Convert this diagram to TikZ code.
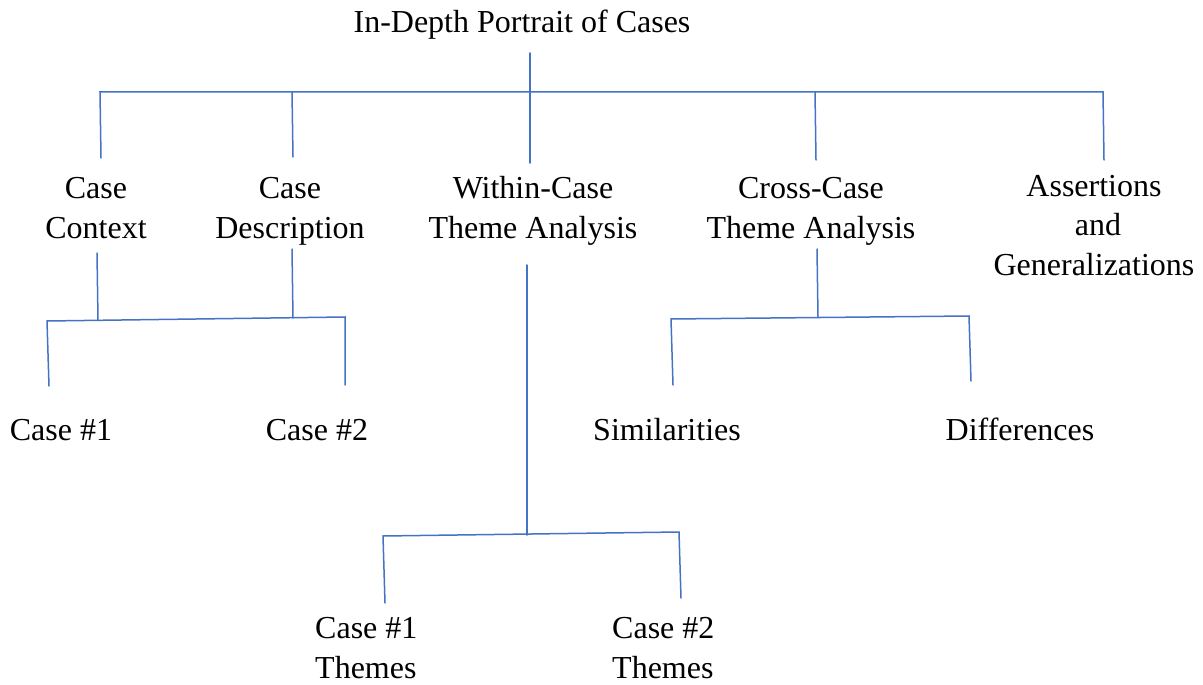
\documentclass[tikz,border=0pt]{standalone}
\usepackage{fontspec}
\setmainfont{Liberation Serif}
\definecolor{lineblue}{RGB}{68,114,196}
\begin{document}
\begin{tikzpicture}[x=1pt,y=-1pt,
  lbl/.style={align=center, font=\fontsize{32}{39.5}\selectfont, inner sep=0pt, anchor=base},
  lbll/.style={lbl, align=left, anchor=base west},
  conn/.style={draw=lineblue, line width=1.5pt, line cap=round, line join=miter}]
\useasboundingbox (0,0) rectangle (1203,685);
% labels (anchor base = baseline of the last line)
\node[lbl] (title) at (522,33) {In-Depth Portrait of Cases};
\node[lbl] (ctx) at (96,238) {Case\\Context};
\node[lbl] (desc) at (290,238) {Case\\Description};
\node[lbl] (within) at (533,238) {Within-Case\\Theme Analysis};
\node[lbl] (cross) at (811,238) {Cross-Case\\Theme Analysis};
\node[lbl] (assert) at (1094,275) {Assertions\\ \ and\\Generalizations};
\node[lbl] (c1) at (61,440) {Case \#1};
\node[lbl] (c2) at (317,440) {Case \#2};
\node[lbl] (sim) at (667,440) {Similarities};
\node[lbl] (diff) at (1020,440) {Differences};
\node[lbll] (t1) at (315,678) {Case \#1\\Themes};
\node[lbll] (t2) at (612,678) {Case \#2\\Themes};
% junction coordinates
\coordinate (titleS) at (530,53);
\coordinate (barL) at (100,92);
\coordinate (bar2) at (292,92);
\coordinate (barM) at (530,92);
\coordinate (bar4) at (815,92);
\coordinate (barR) at (1103,92);
\coordinate (ctxN) at (101,158);
\coordinate (descN) at (293,157);
\coordinate (withinN) at (530,163);
\coordinate (crossN) at (816,160);
\coordinate (assertN) at (1104,160);
% case context/description group
\coordinate (ctxS) at (97,253);
\coordinate (ctxJ) at (98,320);
\coordinate (descS) at (292,249);
\coordinate (descJ) at (293,318);
\coordinate (gL) at (47,321);
\coordinate (gR) at (345,317);
\coordinate (c1N) at (49,386);
\coordinate (c2N) at (345,385);
% cross-case group
\coordinate (crossS) at (817,249);
\coordinate (crossJ) at (818,317);
\coordinate (xL) at (671,319);
\coordinate (xR) at (969,316);
\coordinate (simN) at (673,385);
\coordinate (diffN) at (971,381);
% within-case group
\coordinate (withinS) at (527,265);
\coordinate (wJ) at (527,535);
\coordinate (wL) at (383,536);
\coordinate (wR) at (679,532);
\coordinate (t1N) at (385,603);
\coordinate (t2N) at (681,598);
% connectors
\draw[conn] (titleS) -- (withinN);
\draw[conn] (ctxN) -- (barL) -- (barR) -- (assertN);
\draw[conn] (bar2) -- (descN);
\draw[conn] (bar4) -- (crossN);
\draw[conn] (ctxS) -- (ctxJ);
\draw[conn] (descS) -- (descJ);
\draw[conn] (c1N) -- (gL) -- (gR) -- (c2N);
\draw[conn] (crossS) -- (crossJ);
\draw[conn] (simN) -- (xL) -- (xR) -- (diffN);
\draw[conn] (withinS) -- (wJ);
\draw[conn] (t1N) -- (wL) -- (wR) -- (t2N);
\end{tikzpicture}
\end{document}
